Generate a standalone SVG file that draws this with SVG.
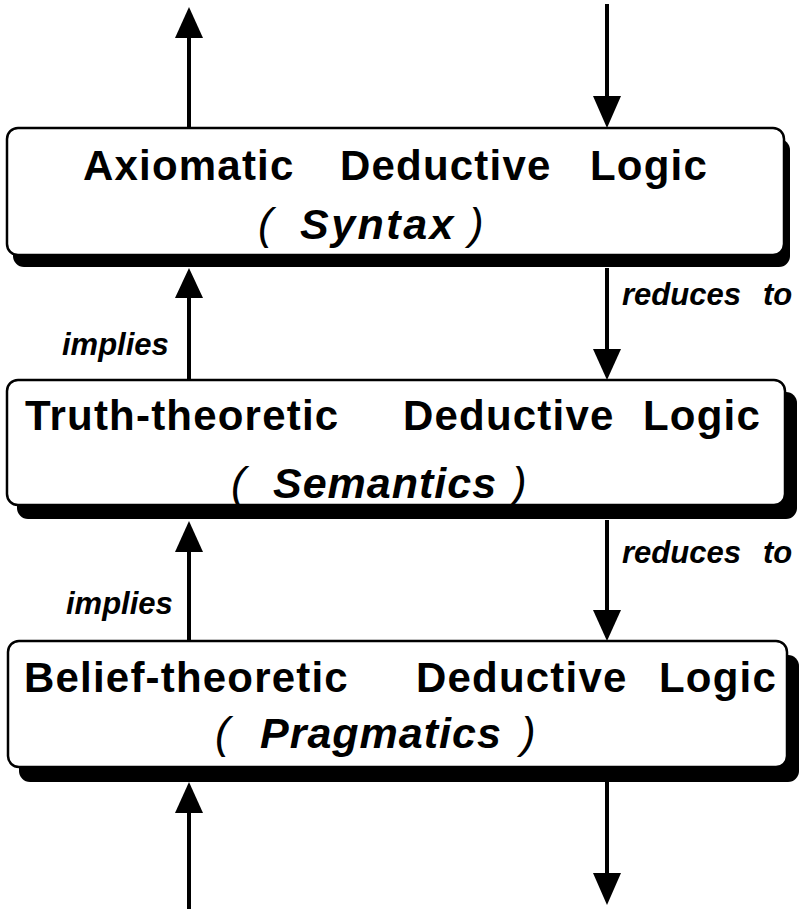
<svg xmlns="http://www.w3.org/2000/svg" width="801" height="909" viewBox="0 0 801 909">
<style>
.box{fill:#fff;stroke:#000;stroke-width:2.5}
.shadow{fill:#000}
.t{font-family:"Liberation Sans",Arial,sans-serif;font-weight:bold;font-size:42px;fill:#000;letter-spacing:1.2px}
.i{font-family:"Liberation Sans",Arial,sans-serif;font-weight:bold;font-style:italic;font-size:43px;fill:#000;letter-spacing:1px}
.p{font-family:"Liberation Sans",Arial,sans-serif;font-style:italic;font-size:44px;fill:#000}
.lbl{font-family:"Liberation Sans",Arial,sans-serif;font-weight:bold;font-style:italic;font-size:31px;fill:#000}
.ln{stroke:#000;stroke-width:4;fill:none}
.hd{fill:#000}
</style>
<g id="connectors">
  <line class="ln" x1="189" y1="128" x2="189" y2="36"/>
  <polygon class="hd" points="189,7 175,38 203,38"/>
  <line class="ln" x1="607" y1="4" x2="607" y2="98"/>
  <polygon class="hd" points="607,128 593,96 621,96"/>
  <line class="ln" x1="189" y1="380" x2="189" y2="296"/>
  <polygon class="hd" points="189,268 175,298 203,298"/>
  <line class="ln" x1="607" y1="268" x2="607" y2="352"/>
  <polygon class="hd" points="607,380 593,349 621,349"/>
  <line class="ln" x1="189" y1="641" x2="189" y2="550"/>
  <polygon class="hd" points="189,521 175,552 203,552"/>
  <line class="ln" x1="607" y1="520" x2="607" y2="612"/>
  <polygon class="hd" points="607,641 593,610 621,610"/>
  <line class="ln" x1="189" y1="909" x2="189" y2="810"/>
  <polygon class="hd" points="189,782 175,813 203,813"/>
  <line class="ln" x1="607" y1="782" x2="607" y2="876"/>
  <polygon class="hd" points="607,905 593,873 621,873"/>
  <text class="lbl" x="622" y="305">reduces</text>
  <text class="lbl" x="763" y="305">to</text>
  <text class="lbl" x="62" y="355">implies</text>
  <text class="lbl" x="622" y="563">reduces</text>
  <text class="lbl" x="763" y="563">to</text>
  <text class="lbl" x="66" y="614">implies</text>
</g>
<g id="syntax">
  <rect class="shadow" x="13" y="139" width="777" height="128" rx="11"/>
  <rect class="box" x="7" y="128" width="777" height="127" rx="11"/>
  <text class="t" x="83" y="180">Axiomatic</text>
  <text class="t" x="340" y="180">Deductive</text>
  <text class="t" x="590" y="180">Logic</text>
  <text class="p" x="258" y="239">(</text>
  <text class="i" x="300" y="239" style="letter-spacing:2.5px">Syntax</text>
  <text class="p" x="469" y="239">)</text>
</g>
<g id="semantics">
  <rect class="shadow" x="17" y="392" width="780" height="127" rx="11"/>
  <rect class="box" x="7" y="380" width="778" height="125" rx="11"/>
  <text class="t" x="25" y="430">Truth-theoretic</text>
  <text class="t" x="403" y="430">Deductive</text>
  <text class="t" x="643" y="430">Logic</text>
  <text class="p" x="231" y="498">(</text>
  <text class="i" x="273" y="498">Semantics</text>
  <text class="p" x="512" y="498">)</text>
</g>
<g id="pragmatics">
  <rect class="shadow" x="19" y="655" width="780" height="127" rx="11"/>
  <rect class="box" x="8" y="641" width="779" height="126" rx="11"/>
  <text class="t" x="24" y="692">Belief-theoretic</text>
  <text class="t" x="416" y="692">Deductive</text>
  <text class="t" x="659" y="692">Logic</text>
  <text class="p" x="215" y="748">(</text>
  <text class="i" x="260" y="748">Pragmatics</text>
  <text class="p" x="521" y="748">)</text>
</g>
</svg>
